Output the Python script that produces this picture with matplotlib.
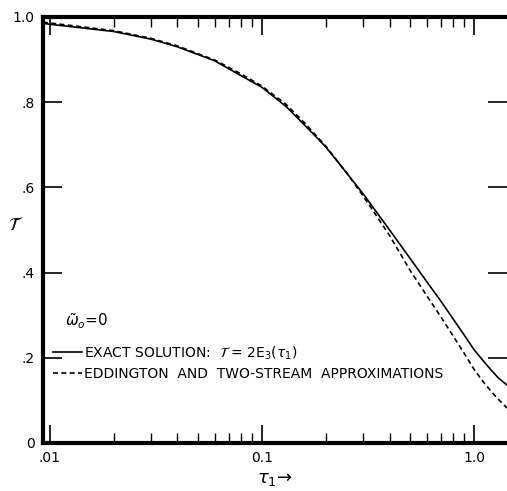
import matplotlib
matplotlib.use('Agg')
import matplotlib.pyplot as plt
from matplotlib.ticker import FixedLocator, FixedFormatter, LogLocator, NullFormatter

# optical depth values
tau = [0.0093, 0.01, 0.02, 0.03, 0.04, 0.06, 0.08, 0.1, 0.13, 0.16, 0.2,
       0.25, 0.3, 0.4, 0.5, 0.6, 0.7, 0.8, 0.9, 1.0, 1.1, 1.2, 1.3, 1.43]

# exact solution T = 2E3(tau)
exact = [0.985, 0.983, 0.966, 0.948, 0.930, 0.897, 0.862, 0.835, 0.790, 0.745, 0.695,
         0.635, 0.585, 0.500, 0.433, 0.378, 0.332, 0.290, 0.253, 0.219, 0.194, 0.172,
         0.153, 0.136]

# Eddington / two-stream approximation
eddington = [0.988, 0.986, 0.968, 0.950, 0.932, 0.899, 0.866, 0.838, 0.795, 0.750, 0.697,
             0.635, 0.580, 0.487, 0.405, 0.345, 0.295, 0.250, 0.210, 0.173, 0.145, 0.122,
             0.103, 0.082]

xticks = [0.01, 0.1, 1.0]
xticklabels = ['.01', '0.1', '1.0']
yticks = [0, 0.2, 0.4, 0.6, 0.8, 1.0]
yticklabels = ['0', '.2', '.4', '.6', '.8', '1.0']

plt.rcParams['font.family'] = ['DejaVu Sans']
plt.rcParams['mathtext.fontset'] = 'dejavusans'

fig = plt.figure(figsize=(5.07, 4.91), dpi=100)
ax = fig.add_axes([43 / 507, 48 / 491, 464 / 507, 426 / 491])

ax.plot(tau, exact, color='black', lw=1.2, label='EXACT SOLUTION:  $\\mathcal{T}$ = 2E$_3$($\\tau_1$)')
ax.plot(tau, eddington, color='black', lw=1.2, ls=(0, (3, 2)),
        label='EDDINGTON  AND  TWO-STREAM  APPROXIMATIONS')

ax.set_xscale('log')
ax.set_xlim(0.0093, 1.43)
ax.set_ylim(0, 1.0)

ax.xaxis.set_major_locator(FixedLocator(xticks))
ax.xaxis.set_major_formatter(FixedFormatter(xticklabels))
ax.xaxis.set_minor_locator(LogLocator(base=10, subs=range(2, 10)))
ax.xaxis.set_minor_formatter(NullFormatter())
ax.yaxis.set_major_locator(FixedLocator(yticks))
ax.yaxis.set_major_formatter(FixedFormatter(yticklabels))

ax.tick_params(which='major', direction='in', length=13, width=1.2,
               top=True, right=True, labelsize=10, pad=6)
ax.tick_params(which='minor', direction='in', length=7, width=1.0, top=True)
ax.tick_params(axis='y', which='major', length=14)

for s in ['left', 'top', 'bottom']:
    ax.spines[s].set_linewidth(3.0)
ax.spines['right'].set_visible(False)

ax.set_ylabel('$\\mathcal{T}$', fontsize=13, rotation=0)
ax.yaxis.set_label_coords(-0.06, 0.49)
ax.set_xlabel('$\\tau_1$\u2192', fontsize=13, labelpad=3)

ax.text(0.048, 0.285, '$\\tilde{\\omega}_o$=0', transform=ax.transAxes, fontsize=11,
        va='center', ha='left')

ax.legend(loc='upper left', bbox_to_anchor=(0.0216, 0.232), frameon=False,
          fontsize=10, handlelength=2.1, handletextpad=0.15, borderpad=0,
          borderaxespad=0, labelspacing=0.4)

fig.savefig('out.png', dpi=100)
